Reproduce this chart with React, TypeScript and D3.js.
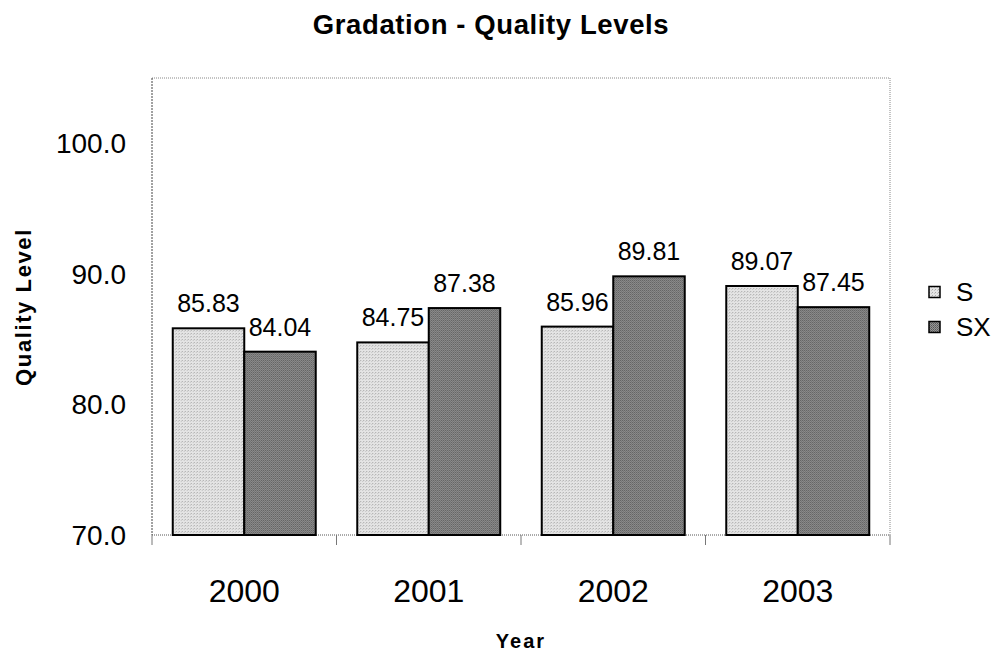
import React from "react";
import * as d3 from "d3";

const years = ["2000", "2001", "2002", "2003"];
const series = ["S", "SX"];
const sValues = [85.83, 84.75, 85.96, 89.07];
const sxValues = [84.04, 87.38, 89.81, 87.45];
const yTicks = [70, 80, 90, 100];

const W = 1000;
const H = 656;
const M = { left: 152, right: 890, top: 78, bottom: 535 };

export default function App() {
  const x = d3.scaleBand<string>().domain(years).range([M.left, M.right]).paddingInner(0.225).paddingOuter(0.1125);
  const x1 = d3.scaleBand<string>().domain(series).range([0, x.bandwidth()]);
  const y = d3.scaleLinear().domain([70, 105]).range([M.bottom, M.top]);
  const step = (M.right - M.left) / years.length;
  const data = years.map((yr, i) => ({ yr, vals: [sValues[i], sxValues[i]] }));
  const fills = ["url(#patS)", "url(#patSX)"];
  const font = "Arial, 'Liberation Sans', sans-serif";

  return (
    <svg width={W} height={H} style={{ position: "absolute", left: 0, top: 0 }} fontFamily={font}>
      <defs>
        <pattern id="patS" width="3" height="3" patternUnits="userSpaceOnUse">
          <rect width="3" height="3" fill="#e4e4e4" />
          <rect width="1" height="1" fill="#a8a8a8" />
          <rect x="2" y="1" width="1" height="1" fill="#c4c4c4" />
        </pattern>
        <pattern id="patSX" width="2" height="2" patternUnits="userSpaceOnUse">
          <rect width="2" height="2" fill="#969696" />
          <rect width="1" height="1" fill="#555" />
          <rect x="1" y="1" width="1" height="1" fill="#6a6a6a" />
        </pattern>
      </defs>
      <rect width={W} height={H} fill="#fff" />
      <text x={491} y={34} textAnchor="middle" fontSize={27.5} fontWeight="bold" letterSpacing={0.6}>
        Gradation - Quality Levels
      </text>
      {/* plot border */}
      <line x1={M.left} x2={M.right} y1={M.top} y2={M.top} stroke="#888" strokeDasharray="1,1" />
      <line x1={M.right} x2={M.right} y1={M.top} y2={M.bottom} stroke="#888" strokeDasharray="1,1" />
      <line x1={M.left} x2={M.right} y1={M.bottom} y2={M.bottom} stroke="#555" strokeDasharray="1,1" />
      <line x1={M.left} x2={M.left} y1={M.top} y2={M.bottom} stroke="#444" strokeDasharray="2,1" />
      {/* y tick labels */}
      {yTicks.map((t) => (
        <text key={t} x={126} y={y(t)} dy="0.35em" textAnchor="end" fontSize={28}>
          {d3.format(".1f")(t)}
        </text>
      ))}
      {/* x ticks */}
      {d3.range(years.length + 1).map((i) => (
        <line key={i} x1={M.left + i * step} x2={M.left + i * step} y1={M.bottom} y2={M.bottom + 10} stroke="#777" />
      ))}
      {/* bars */}
      {data.map((d) => (
        <g key={d.yr} transform={`translate(${x(d.yr)},0)`}>
          {d.vals.map((v, j) => (
            <g key={j}>
              <rect
                x={x1(series[j])}
                y={y(v)}
                width={x1.bandwidth()}
                height={y(70) - y(v)}
                fill={fills[j]}
                stroke="#000"
                strokeWidth={2}
              />
              <text x={(x1(series[j]) as number) + x1.bandwidth() / 2} y={y(v) - 16} textAnchor="middle" fontSize={25}>
                {d3.format(".2f")(v)}
              </text>
            </g>
          ))}
        </g>
      ))}
      {/* year labels */}
      {years.map((yr) => (
        <text key={yr} x={(x(yr) as number) + x.bandwidth() / 2} y={602} textAnchor="middle" fontSize={32}>
          {yr}
        </text>
      ))}
      <text x={521} y={648} textAnchor="middle" fontSize={20} fontWeight="bold" letterSpacing={2}>
        Year
      </text>
      <text
        transform={`translate(31,307) rotate(-90)`}
        textAnchor="middle"
        fontSize={22}
        fontWeight="bold"
        letterSpacing={1.6}
      >
        Quality Level
      </text>
      {/* legend */}
      {series.map((s, i) => (
        <g key={s} transform={`translate(929,${292 + i * 35})`}>
          <rect x={0} y={-5.5} width={11} height={11} fill={fills[i]} stroke="#000" strokeWidth={1.5} />
          <text x={27} y={0} dy="0.36em" fontSize={26}>
            {s}
          </text>
        </g>
      ))}
    </svg>
  );
}
